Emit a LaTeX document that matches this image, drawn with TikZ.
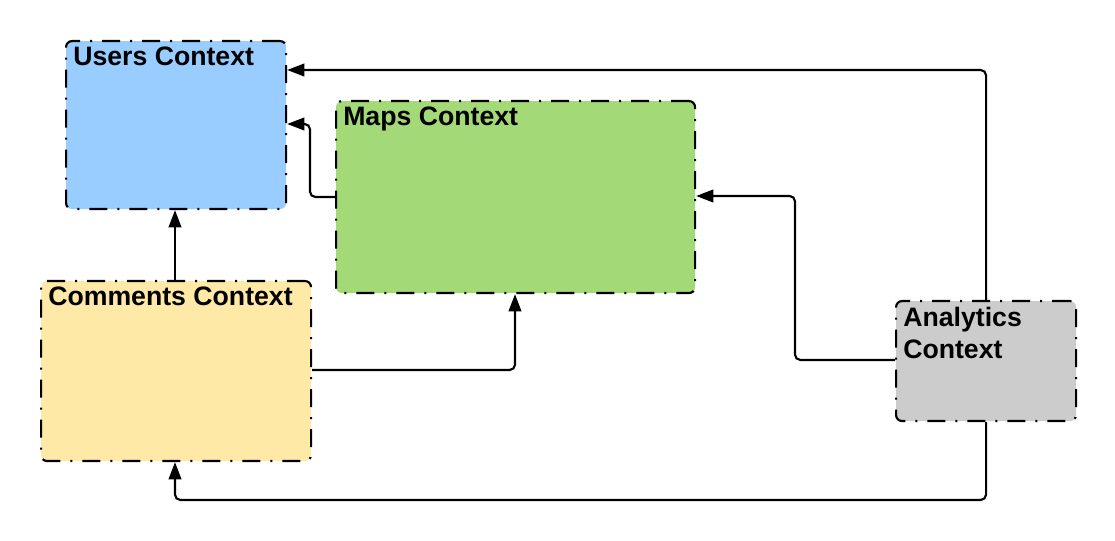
\documentclass[tikz,border=0pt]{standalone}
\usepackage{fontspec}
\setmainfont{Liberation Sans}
\usetikzlibrary{arrows.meta,calc}
\definecolor{usersc}{HTML}{99CCFF}
\definecolor{mapsc}{HTML}{A3D977}
\definecolor{commc}{HTML}{FFE9A6}
\definecolor{analc}{HTML}{CCCCCC}
\tikzset{
  ctxbox/.style={draw=black, line width=1.6pt, rounded corners=4.5pt,
    dash pattern=on 13.5pt off 7.5pt on 1.5pt off 7.5pt, anchor=north west, inner sep=0pt},
  ctxtitle/.style={anchor=north west, inner sep=0pt, align=left,
    font=\fontsize{20}{24}\selectfont\bfseries},
  conn/.style={draw=black, line width=1.6pt, rounded corners=4pt,
    -{Triangle[length=13pt,width=9.5pt]}}
}
\begin{document}
\begin{tikzpicture}[x=0.75pt,y=-0.75pt]
\useasboundingbox (0,0) rectangle (1115,541);
\node[ctxbox, fill=usersc, minimum width=220*0.75pt, minimum height=168*0.75pt] (users) at (65,40) {};
\node[ctxbox, fill=mapsc, minimum width=359*0.75pt, minimum height=192*0.75pt] (maps) at (335,100) {};
\node[ctxbox, fill=commc, minimum width=270*0.75pt, minimum height=180*0.75pt] (comm) at (40,280) {};
\node[ctxbox, fill=analc, minimum width=180*0.75pt, minimum height=120*0.75pt] (anal) at (895,300) {};
\node[ctxtitle] (userst) at ($(users.north west)+(8,7)$) {Users Context};
\node[ctxtitle] (mapst) at ($(maps.north west)+(8,7)$) {Maps Context};
\node[ctxtitle] (commt) at ($(comm.north west)+(8,7)$) {Comments Context};
\node[ctxtitle] (analt) at ($(anal.north west)+(8,7)$) {Analytics\\Context};
% connectors
\draw[conn] (anal.north) -- (anal.north |- 0,70) -- (users.east |- 0,70);
\draw[conn] (maps.west |- 0,197) -- (310,197) -- (310,124) -- (users.east |- 0,124);
\draw[conn] (comm.north -| 175,0) -- (users.south -| 175,0);
\draw[conn] (comm.east |- 0,370) -- (515,370) -- (maps.south -| 515,0);
\draw[conn] (anal.west |- 0,360) -- (795,360) -- (795,196) -- (maps.east |- 0,196);
\draw[conn] (anal.south) -- (anal.south |- 0,500) -- (175,500) -- (comm.south -| 175,0);
\end{tikzpicture}
\end{document}
